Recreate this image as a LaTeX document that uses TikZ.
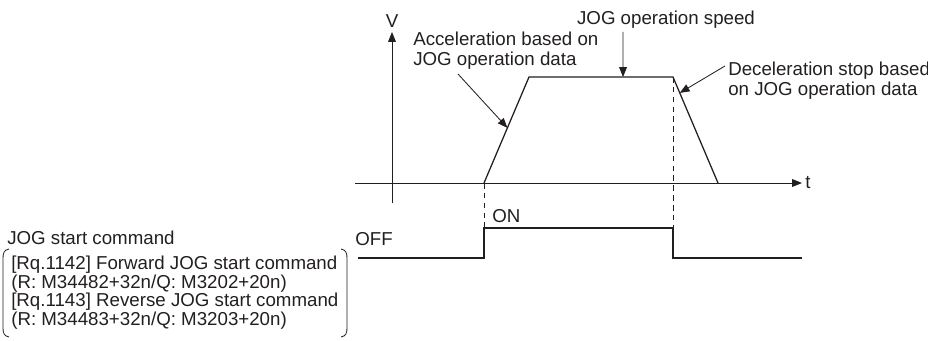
\documentclass[tikz,border=0pt]{standalone}
\usepackage{fontspec}
\setmainfont{Liberation Sans}
\usetikzlibrary{positioning,arrows.meta,calc}
\definecolor{lineC}{RGB}{35,31,32}
\tikzset{
	axis/.style={-{Triangle[length=7pt,width=5.5pt]}, line width=0.6pt, lineC},
	curve/.style={line width=0.9pt, lineC},
	guide/.style={dash pattern=on 4pt off 3pt, line width=0.5pt, lineC},
	pointer/.style={-{Triangle[length=7pt,width=5.5pt]}, line width=0.6pt, lineC},
	brk/.style={line width=0.6pt, lineC},
	lbl/.style={font=\fontsize{13.3}{14.9}\selectfont, text=lineC, inner sep=0pt, align=left},
	listlbl/.style={lbl, font=\fontsize{13.3}{13.2}\selectfont},
}

\begin{document}
\begin{tikzpicture}[x=0.025cm, y=-0.025cm]
		\useasboundingbox (0,0) rectangle (928,341);
		
		% =============== AXES ===============
		\coordinate (vbot) at (392,203);
		\coordinate (vtop) at (392,32);
		\coordinate (tl)   at (355,183);
		\coordinate (tr)   at (802,183);
		\draw[axis] (vbot) -- (vtop);
		\draw[axis] (tl) -- (tr);
		\node[lbl, anchor=south] (V) at (392,28) {V};
		\node[lbl, anchor=west]  (t) at (805,183) {t};
		
		% =============== SPEED PROFILE ===============
		\coordinate (a0) at (484,183);
		\coordinate (a1) at (529,77);
		\coordinate (a2) at (673,77);
		\coordinate (a3) at (718,183);
		\draw[curve] (a0) -- (a1) -- (a2) -- (a3);
		
		% =============== START COMMAND SIGNAL ===============
		\coordinate (s0) at (358,258);
		\coordinate (s1) at (484,258);
		\coordinate (s2) at (484,228);
		\coordinate (s3) at (673,228);
		\coordinate (s4) at (673,258);
		\coordinate (s5) at (802,258);
		\draw[curve] (s0) -- (s1) -- (s2) -- (s3) -- (s4) -- (s5);
		\draw[guide] (a0) -- (s2);
		\draw[guide] (a2) -- (s3);
		\node[lbl, anchor=base west] (on)  at (492,222) {ON};
		\node[lbl, anchor=base west] (off) at (355,245) {OFF};
		
		% =============== ANNOTATIONS ===============
		\node[lbl, anchor=base] (speed) at (666,25) {JOG operation speed};
		\coordinate (spdTail) at (623,32);
		\coordinate (spdTip) at ($(a1)!0.653!(a2)$);
		\draw[pointer] (spdTail) -- (spdTip);
		
		% base of a two-line label = its last line
		\node[lbl, anchor=base west] (acc) at (413,66)
		{Acceleration based on\\JOG operation data};
		\coordinate (accTail) at (458,74);
		\coordinate (accTip) at ($(a0)!0.52!(a1)$);
		\draw[pointer] (accTail) -- (accTip);
		
		\node[lbl, anchor=base west] (dec) at (728,96)
		{Deceleration stop based\\on JOG operation data};
		\coordinate (decTail) at (725,66);
		\coordinate (decTip) at ($(a2)!0.15!(a3)$);
		\draw[pointer] (decTail) -- (decTip);
		
		% =============== START COMMAND LIST ===============
		\node[lbl, anchor=base west] (cmd) at (7,244) {JOG start command};
		\node[listlbl, anchor=base west] (list) at (11,325.5)
		{{[Rq.1142]} Forward JOG start command\\(R: M34482+32n/Q: M3202+20n)\\
			{[Rq.1143]} Reverse JOG start command\\(R: M34483+32n/Q: M3203+20n)};
		\draw[brk] (9,249) .. controls (4,250) and (3,253) .. (3,258) -- (3,328)
		.. controls (3,333) and (4,336) .. (9,337);
		\draw[brk] (341,249) .. controls (346,250) and (347,253) .. (347,258) -- (347,328)
		.. controls (347,333) and (346,336) .. (341,337);
		
	\end{tikzpicture}
\end{document}
